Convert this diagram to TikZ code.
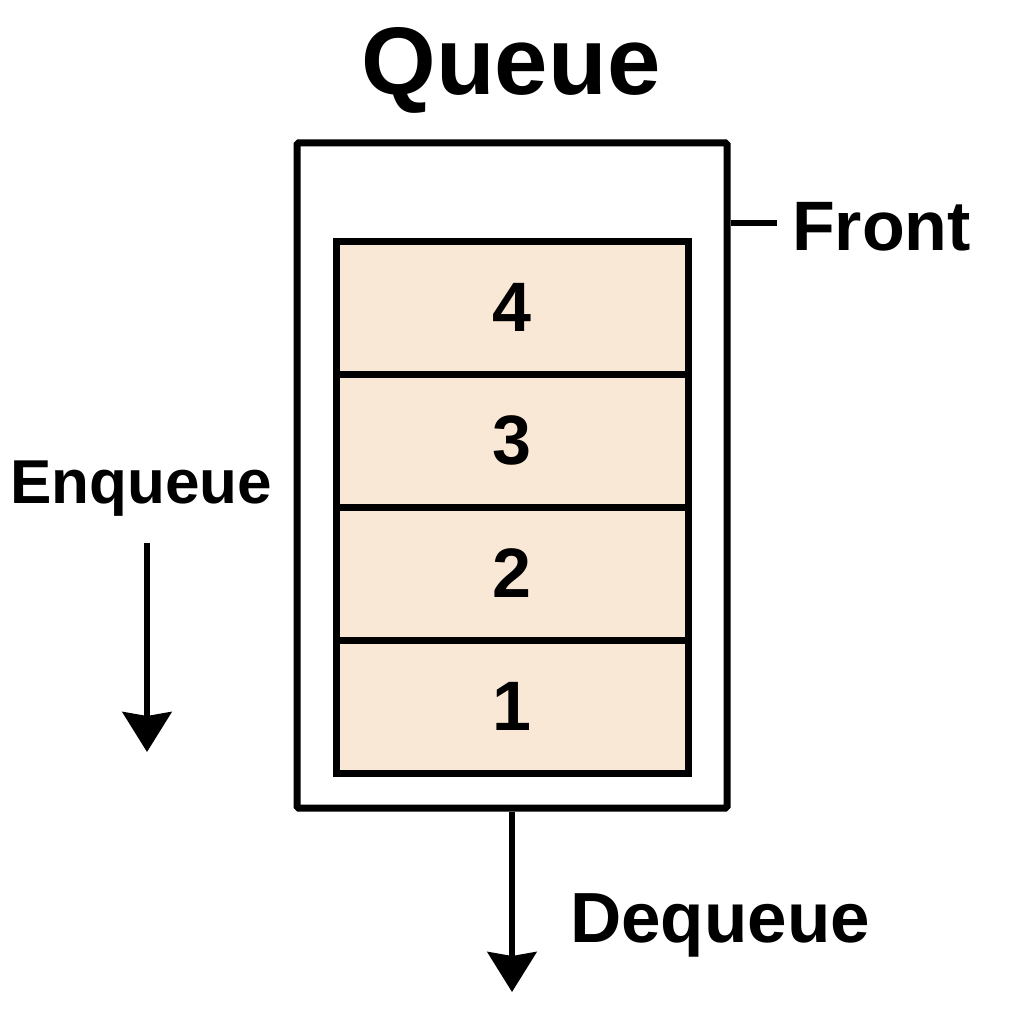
\documentclass[tikz,border=0pt]{standalone}
\usepackage{fontspec}
\setmainfont{Liberation Sans}
\usetikzlibrary{arrows.meta}
\definecolor{cellfill}{RGB}{250,232,214}
\begin{document}
\begin{tikzpicture}[x=1pt,y=-1pt,
  lbl/.style={font=\fontsize{#1}{#1}\selectfont\bfseries, inner sep=0pt},
  cell/.style={draw, line width=7pt, fill=cellfill, minimum width=352pt, minimum height=133pt, inner sep=0pt, font=\fontsize{70}{70}\selectfont\bfseries},
  qframe/.style={draw, line width=7pt, minimum width=430pt, minimum height=665pt, inner sep=0pt, rounded corners=1.5pt},
  arr/.style={line width=6pt, -{Stealth[length=40pt,width=49pt,inset=4pt]}}]
\useasboundingbox (0,0) rectangle (1024,1024);
\node[qframe] (qf) at (512,475.5) {};
\node[cell] (c4) at (512,307.5) {4};
\node[cell] (c3) at (512,440.5) {3};
\node[cell] (c2) at (512,573.5) {2};
\node[cell] (c1) at (512,706.5) {1};
\node[lbl=96, anchor=base] (title) at (511,95) {Queue};
\coordinate (ft) at (777,223);
\draw[line width=6pt] (qf.east |- ft) -- (ft);
\node[lbl=70, anchor=base west] (front) at (792,250) {Front};
\node[lbl=62, anchor=base west] (enq) at (10,503) {Enqueue};
\coordinate (ea) at (147,543);
\coordinate (eb) at (147,752);
\draw[arr] (ea) -- (eb);
\coordinate (db) at (512,992);
\draw[arr] (qf.south) -- (db);
\node[lbl=71, anchor=base west] (deq) at (570,942) {Dequeue};
\end{tikzpicture}
\end{document}
